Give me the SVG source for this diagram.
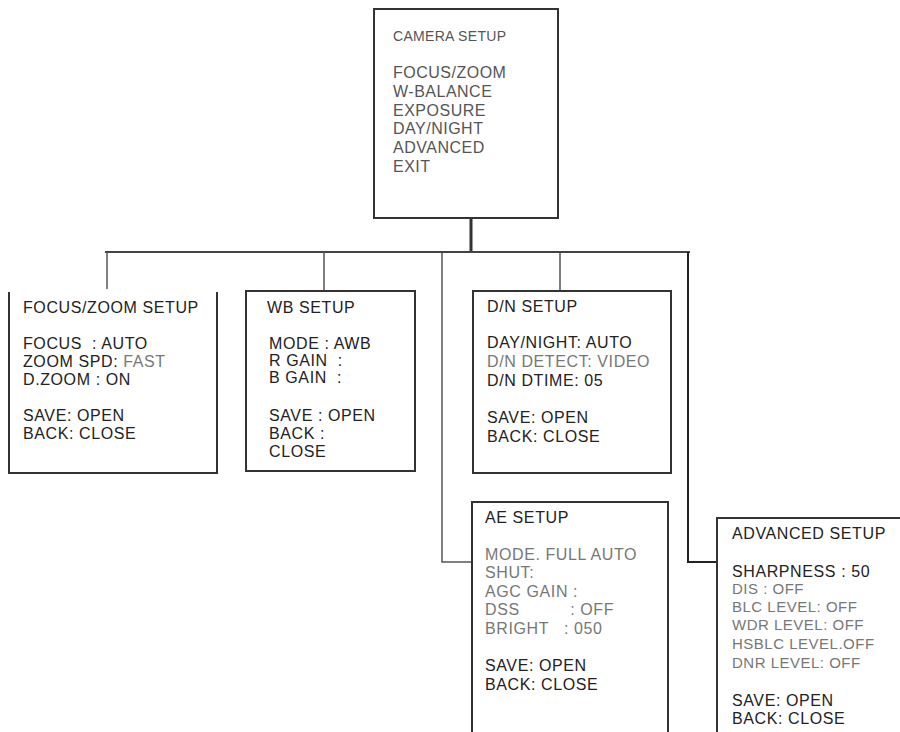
<svg xmlns="http://www.w3.org/2000/svg" width="900" height="732" viewBox="0 0 900 732">
<style>
.bx{fill:none;stroke:#333;stroke-width:2}
.t{font-family:"Liberation Sans",Arial,sans-serif;font-size:16px;letter-spacing:0.6px;fill:#222}
.tt{font-family:"Liberation Sans",Arial,sans-serif;font-size:16px;letter-spacing:0.5px;fill:#555}
.g{fill:#777}
.sm{font-size:15px;letter-spacing:0.5px}
.c{fill:none;stroke:#444;stroke-width:2}
.cs{fill:none;stroke:#555;stroke-width:1.5}
</style>
<rect width="900" height="732" fill="#fff"/>
<g id="connectors">
<line class="c" x1="471" y1="217" x2="471" y2="252" style="stroke-width:3;stroke:#333"/>
<line class="c" x1="105" y1="252" x2="690" y2="252"/>
<line class="cs" x1="107" y1="252" x2="107" y2="289"/>
<line class="cs" x1="324" y1="252" x2="324" y2="291"/>
<line class="cs" x1="560" y1="252" x2="560" y2="291"/>
<polyline class="cs" points="442,253 442,562 472,562"/>
<polyline class="c" points="688,252 688,562 717,562" style="stroke:#222"/>
</g>
<g id="camera-setup">
<rect class="bx" x="374" y="9" width="184" height="209"/>
<text class="tt" x="393" y="41" style="font-size:14px;letter-spacing:0.3px">CAMERA SETUP</text>
<text class="tt" x="393" y="77.5">FOCUS/ZOOM</text>
<text class="tt" x="393" y="96.5">W-BALANCE</text>
<text class="tt" x="393" y="115.5">EXPOSURE</text>
<text class="tt" x="393" y="133.5">DAY/NIGHT</text>
<text class="tt" x="393" y="152.5">ADVANCED</text>
<text class="tt" x="393" y="171.5">EXIT</text>
</g>
<g id="focus-zoom-setup">
<polyline class="bx" points="9,292 9,473 217,473 217,292"/>
<text class="t" x="23" y="313">FOCUS/ZOOM SETUP</text>
<text class="t" x="23" y="349" xml:space="preserve">FOCUS  : AUTO</text>
<text class="t" x="23" y="367">ZOOM SPD: <tspan class="g">FAST</tspan></text>
<text class="t" x="23" y="385">D.ZOOM : ON</text>
<text class="t" x="23" y="421">SAVE: OPEN</text>
<text class="t" x="23" y="439">BACK: CLOSE</text>
</g>
<g id="wb-setup">
<rect class="bx" x="246" y="291" width="169" height="180"/>
<text class="t" x="267" y="313">WB SETUP</text>
<text class="t" x="269" y="349">MODE : AWB</text>
<text class="t" x="269" y="366" xml:space="preserve">R GAIN  :</text>
<text class="t" x="269" y="383" xml:space="preserve">B GAIN  :</text>
<text class="t" x="269" y="421">SAVE : OPEN</text>
<text class="t" x="269" y="439">BACK :</text>
<text class="t" x="269" y="457">CLOSE</text>
</g>
<g id="dn-setup">
<rect class="bx" x="473" y="291" width="198" height="182"/>
<text class="t" x="487" y="312">D/N SETUP</text>
<text class="t" x="487" y="348">DAY/NIGHT: AUTO</text>
<text class="t g" x="487" y="367">D/N DETECT: VIDEO</text>
<text class="t" x="487" y="386">D/N DTIME: 05</text>
<text class="t" x="487" y="423">SAVE: OPEN</text>
<text class="t" x="487" y="442">BACK: CLOSE</text>
</g>
<g id="ae-setup">
<polyline class="bx" points="472,732 472,502 668,502 668,732"/>
<text class="t" x="485" y="523">AE SETUP</text>
<text class="t g" x="485" y="560">MODE. FULL AUTO</text>
<text class="t g" x="485" y="578">SHUT:</text>
<text class="t g" x="485" y="597">AGC GAIN :</text>
<text class="t g" x="485" y="615" xml:space="preserve">DSS          : OFF</text>
<text class="t g" x="485" y="634" xml:space="preserve">BRIGHT   : 050</text>
<text class="t" x="485" y="671">SAVE: OPEN</text>
<text class="t" x="485" y="690">BACK: CLOSE</text>
</g>
<g id="advanced-setup">
<polyline class="bx" points="717,732 717,518 900,518"/>
<text class="t" x="732" y="539">ADVANCED SETUP</text>
<text class="t" x="732" y="577">SHARPNESS : 50</text>
<text class="t g sm" x="732" y="594">DIS : OFF</text>
<text class="t g sm" x="732" y="612">BLC LEVEL: OFF</text>
<text class="t g sm" x="732" y="630">WDR LEVEL: OFF</text>
<text class="t g sm" x="732" y="649">HSBLC LEVEL.OFF</text>
<text class="t g sm" x="732" y="668">DNR LEVEL: OFF</text>
<text class="t" x="732" y="706">SAVE: OPEN</text>
<text class="t" x="732" y="724">BACK: CLOSE</text>
</g>
</svg>
